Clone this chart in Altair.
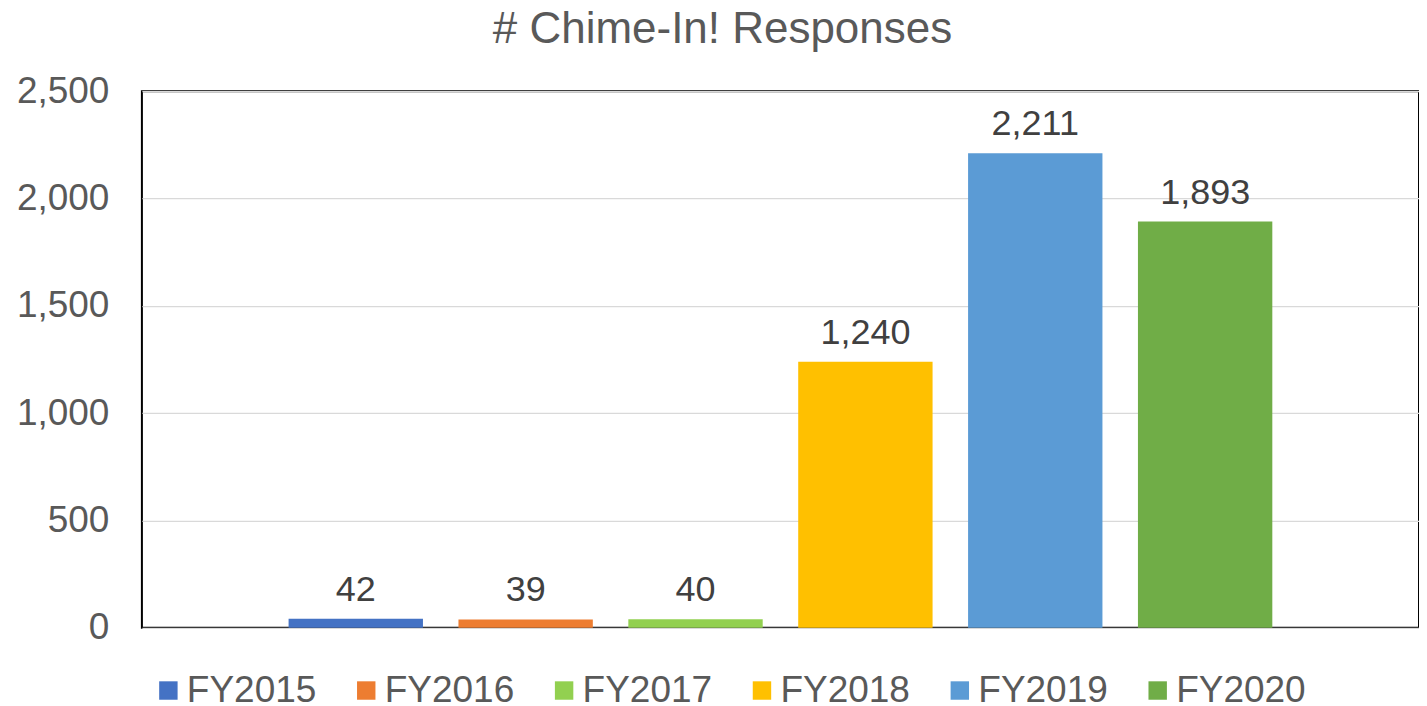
import altair as alt
import pandas as pd

years = ["FY2015", "FY2016", "FY2017", "FY2018", "FY2019", "FY2020"]
responses = [42, 39, 40, 1240, 2211, 1893]
colors = ["#4472C4", "#ED7D31", "#92D050", "#FFC000", "#5B9BD5", "#70AD47"]
y_ticks = [0, 500, 1000, 1500, 2000, 2500]

df = pd.DataFrame({"year": years, "responses": responses})

FONT = "Liberation Sans"

x = alt.X("year:N", sort=years, axis=None,
          scale=alt.Scale(paddingInner=0.209, paddingOuter=0.8635))
y = alt.Y("responses:Q",
          scale=alt.Scale(domain=[0, 2500], nice=False),
          axis=alt.Axis(values=y_ticks, labelExpr="format(datum.value, ',')",
                        title=None, ticks=False,
                        domain=False, labelFontSize=37, labelFont=FONT,
                        labelColor="#595959", labelPadding=33,
                        gridColor="#D9D9D9", gridWidth=1.3))

bars = alt.Chart(df).mark_bar().encode(
    x=x, y=y,
    color=alt.Color("year:N", sort=years,
                    scale=alt.Scale(domain=years, range=colors),
                    legend=alt.Legend(title=None, orient="none",
                                      direction="horizontal",
                                      legendX=8, legendY=581,
                                      symbolType="square", symbolSize=340,
                                      symbolStrokeWidth=0,
                                      labelFontSize=37, labelFont=FONT,
                                      labelColor="#595959", labelOffset=0,
                                      columnPadding=31, padding=0,
                                      labelLimit=300)),
)

labels = alt.Chart(df).mark_text(fontSize=36, font=FONT, color="#404040",
                                 baseline="alphabetic", dy=-18).encode(
    x=x, y=y, text=alt.Text("responses:Q", format=",")
)

chart = (bars + labels).properties(
    width=1278, height=537,
    background="white",
    title=alt.TitleParams("# Chime-In! Responses", fontSize=44, font=FONT,
                          color="#595959", fontWeight="normal",
                          anchor="middle", frame="group", dx=-58,
                          offset=20),
    autosize=alt.AutoSizeParams(type="none"),
    padding={"left": 134, "top": 83, "right": 0, "bottom": 110},
).configure_view(stroke="#000000", strokeWidth=2)

chart.save("out.html", embed_options={"renderer": "svg", "actions": False})
